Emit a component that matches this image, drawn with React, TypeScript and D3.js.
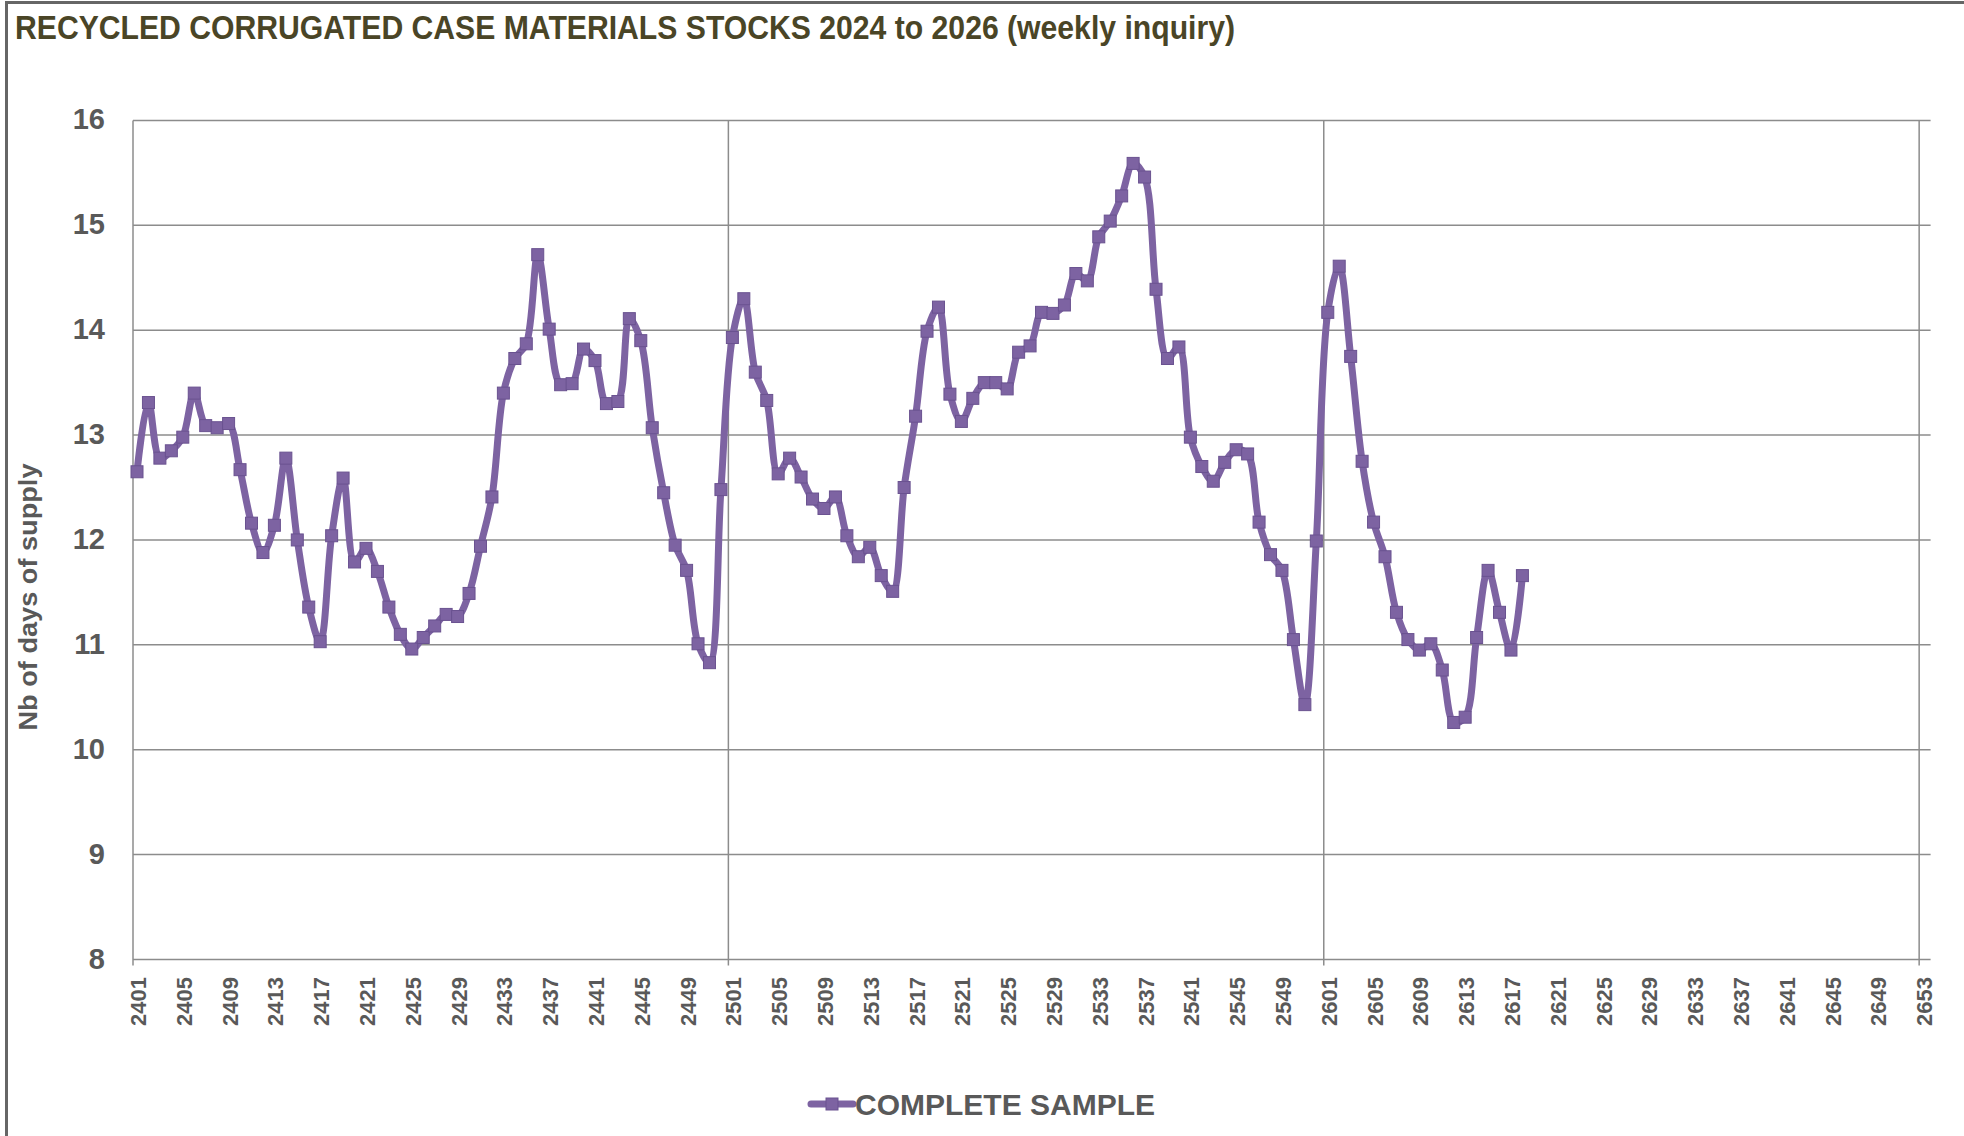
import React, { useEffect, useRef } from 'react';
import * as d3 from 'd3';

// weekly values
const stocks2024 = [
  12.65, 13.31, 12.78, 12.85, 12.98, 13.4, 13.09, 13.07, 13.11, 12.67,
  12.16, 11.88, 12.14, 12.78, 12.0, 11.36, 11.03, 12.04, 12.59, 11.79,
  11.92, 11.7, 11.36, 11.1, 10.96, 11.07, 11.18, 11.29, 11.27, 11.49,
  11.94, 12.41, 13.4, 13.73, 13.87, 14.72, 14.01, 13.48, 13.49, 13.82,
  13.71, 13.3, 13.32, 14.11, 13.9, 13.07, 12.45, 11.95, 11.71, 11.01,
  10.83, 12.48,
];
const stocks2025 = [
  13.93, 14.3, 13.6, 13.33, 12.63, 12.78, 12.6, 12.39, 12.3, 12.41,
  12.04, 11.84, 11.93, 11.66, 11.51, 12.5, 13.18, 13.99, 14.22, 13.39,
  13.13, 13.35, 13.5, 13.5, 13.44, 13.79, 13.85, 14.17, 14.16, 14.24,
  14.54, 14.47, 14.89, 15.04, 15.28, 15.59, 15.46, 14.39, 13.73, 13.84,
  12.98, 12.7, 12.56, 12.74, 12.86, 12.82, 12.17, 11.86, 11.71, 11.05,
  10.43, 11.99,
];
const stocks2026 = [
  14.17, 14.61, 13.75, 12.75, 12.17, 11.84, 11.31, 11.05, 10.95, 11.01,
  10.76, 10.26, 10.31, 11.07, 11.71, 11.31, 10.95, 11.66,
];

const years = ['24', '25', '26'];
const weeksPerYear = [52, 52, 54];
const yTicks = [8, 9, 10, 11, 12, 13, 14, 15, 16];
const title = 'RECYCLED CORRUGATED CASE MATERIALS STOCKS 2024 to 2026 (weekly inquiry)';
const yTitle = 'Nb of days of supply';
const seriesName = 'COMPLETE SAMPLE';

const PURPLE = '#7D63A2';
const GREY = '#595959';

export default function App() {
  const ref = useRef<SVGSVGElement>(null);

  useEffect(() => {
    const svg = d3.select(ref.current);
    svg.selectAll('*').remove();

    const categories: string[] = [];
    years.forEach((yy, i) => {
      for (let w = 1; w <= weeksPerYear[i]; w++) {
        categories.push(yy + String(w).padStart(2, '0'));
      }
    });
    categories[categories.length - 1] = '';
    const values = [...stocks2024, ...stocks2025, ...stocks2026];

    const left = 133, right = 1930.6, top = 120.4, bottom = 959.5;
    const x = d3.scaleLinear().domain([0, categories.length - 1]).range([left, right]);
    const y = d3.scaleLinear().domain([8, 16]).range([bottom, top]);
    const dx = 4; // markers sit a little right of the ticks

    // frame
    svg.append('rect')
      .attr('x', 6.5).attr('y', 2.5)
      .attr('width', 1964).attr('height', 1200)
      .attr('fill', 'none').attr('stroke', '#666').attr('stroke-width', 3);

    svg.append('text')
      .attr('x', 15).attr('y', 39)
      .attr('font-family', 'Liberation Sans, Arial, sans-serif')
      .attr('font-weight', 'bold').attr('font-size', 33)
      .attr('fill', '#4A4526')
      .attr('textLength', 1220).attr('lengthAdjust', 'spacingAndGlyphs')
      .text(title);

    // horizontal gridlines
    svg.append('g').selectAll('line').data(yTicks).enter().append('line')
      .attr('x1', left).attr('x2', right)
      .attr('y1', d => y(d)).attr('y2', d => y(d))
      .attr('stroke', '#8C8C8C').attr('stroke-width', 1.5);

    // vertical gridlines every 52 weeks
    const majors = d3.range(0, categories.length, 52);
    svg.append('g').selectAll('line').data(majors).enter().append('line')
      .attr('x1', d => x(d)).attr('x2', d => x(d))
      .attr('y1', top).attr('y2', bottom + 6)
      .attr('stroke', '#8C8C8C').attr('stroke-width', 1.5);

    svg.append('g').selectAll('text').data(yTicks).enter().append('text')
      .attr('x', 105).attr('y', d => y(d) + 9)
      .attr('text-anchor', 'end')
      .attr('font-family', 'Liberation Sans, Arial, sans-serif')
      .attr('font-weight', 'bold').attr('font-size', 29)
      .attr('fill', GREY)
      .text(d => d);

    const labelIdx = d3.range(0, categories.length - 1, 4);
    svg.append('g').selectAll('text').data(labelIdx).enter().append('text')
      .attr('transform', d => `translate(${x(d) + 13}, 977) rotate(-90)`)
      .attr('text-anchor', 'end')
      .attr('font-family', 'Liberation Sans, Arial, sans-serif')
      .attr('font-weight', 'bold').attr('font-size', 22)
      .attr('fill', GREY)
      .text(d => categories[d]);

    svg.append('text')
      .attr('transform', 'translate(37, 597) rotate(-90)')
      .attr('text-anchor', 'middle')
      .attr('font-family', 'Liberation Sans, Arial, sans-serif')
      .attr('font-weight', 'bold').attr('font-size', 25)
      .attr('fill', GREY)
      .attr('textLength', 267).attr('lengthAdjust', 'spacingAndGlyphs')
      .text(yTitle);

    const line = d3.line<number>()
      .x((_, i) => x(i) + dx)
      .y(d => y(d))
      .curve(d3.curveCatmullRom.alpha(0.5));

    svg.append('path')
      .datum(values)
      .attr('d', line)
      .attr('fill', 'none')
      .attr('stroke', PURPLE).attr('stroke-width', 7)
      .attr('stroke-linejoin', 'round').attr('stroke-linecap', 'round');

    const m = 12;
    svg.append('g').selectAll('rect').data(values).enter().append('rect')
      .attr('x', (_, i) => x(i) + dx - m / 2).attr('y', d => y(d) - m / 2)
      .attr('width', m).attr('height', m)
      .attr('fill', PURPLE).attr('stroke', '#6A5290').attr('stroke-width', 1);

    // legend
    const lg = svg.append('g').attr('transform', 'translate(811, 1104)');
    lg.append('line').attr('x1', 0).attr('x2', 42)
      .attr('stroke', PURPLE).attr('stroke-width', 7).attr('stroke-linecap', 'round');
    lg.append('rect').attr('x', 21 - m / 2).attr('y', -m / 2)
      .attr('width', m).attr('height', m)
      .attr('fill', PURPLE).attr('stroke', '#6A5290').attr('stroke-width', 1);
    lg.append('text').attr('x', 44).attr('y', 11)
      .attr('font-family', 'Liberation Sans, Arial, sans-serif')
      .attr('font-weight', 'bold').attr('font-size', 30)
      .attr('fill', GREY)
      .text(seriesName);
  }, []);

  return (
    <svg ref={ref} width={1964} height={1136}
      style={{ position: 'absolute', left: 0, top: 0, background: '#fff' }} />
  );
}
